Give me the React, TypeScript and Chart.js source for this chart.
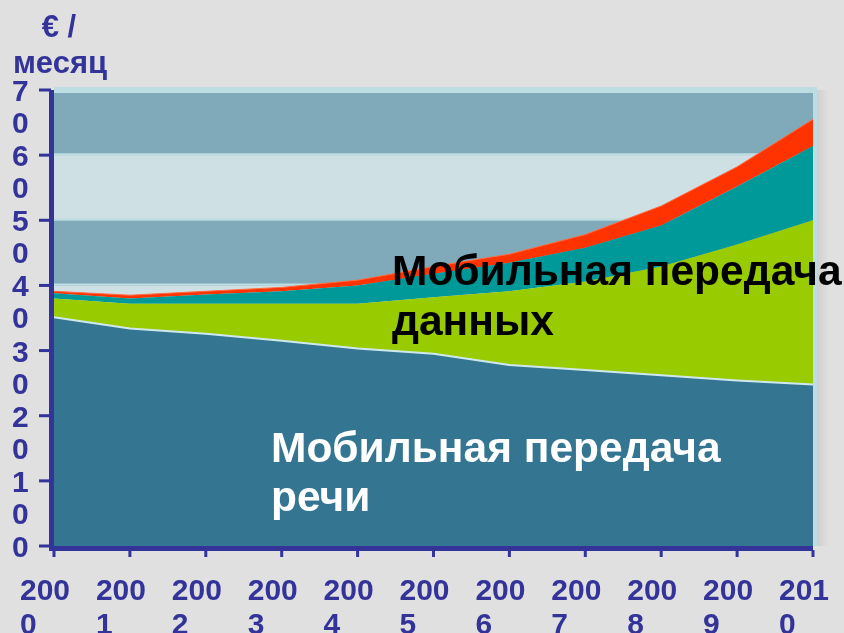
import React, { useEffect, useRef } from 'react';
import { Chart, registerables } from 'chart.js';

Chart.register(...registerables);

// ---- data ----
const years = ['2000', '2001', '2002', '2003', '2004', '2005', '2006', '2007', '2008', '2009', '2010'];
const voice = [35.1, 33.4, 32.6, 31.5, 30.3, 29.5, 27.8, 27.0, 26.2, 25.4, 24.8];
const dataGreen = [2.9, 3.8, 4.6, 5.7, 6.9, 8.7, 11.3, 13.6, 16.7, 20.9, 25.2];
const dataTeal = [0.8, 0.8, 1.4, 1.9, 2.8, 3.6, 4.4, 5.2, 6.3, 8.9, 11.4];
const dataRed = [0.3, 0.5, 0.5, 0.6, 0.8, 1.1, 1.3, 2.0, 3.0, 3.0, 4.1];
const yTicks = [0, 10, 20, 30, 40, 50, 60, 70];
const unitLabel = ['€ /', 'месяц'];
const dataLabel = ['Мобильная передача', 'данных'];
const voiceLabel = ['Мобильная передача', 'речи'];

// ---- styles ----
const BG = '#e0e0e0';
const AXIS = '#333399';
const BAND_DARK = '#80aaba';
const BAND_LIGHT = '#cee0e4';
const EDGE = '#bcdde2';
const C_VOICE = '#347692';
const C_GREEN = '#99cc00';
const C_TEAL = '#009999';
const C_RED = '#ff3300';
const FONT = '"Liberation Sans", Arial, sans-serif';

const splitY = (v: number) => (v === 0 ? ['0'] : [String(v).slice(0, -1), String(v).slice(-1)]);
const splitX = (s: string) => [s.slice(0, 3), s.slice(3)];

const deco = {
  id: 'deco',
  beforeDraw(chart: any) {
    const { ctx, width, height } = chart;
    ctx.save();
    ctx.fillStyle = BG;
    ctx.fillRect(0, 0, width, height);
    ctx.restore();
  },
  beforeDatasetsDraw(chart: any) {
    const { ctx, chartArea: a, scales } = chart;
    const y = scales.y;
    ctx.save();
    const g = ctx.createLinearGradient(a.right, 0, a.right + 16, 0);
    g.addColorStop(0, 'rgba(0,0,0,0.10)');
    g.addColorStop(1, 'rgba(0,0,0,0)');
    ctx.fillStyle = g;
    ctx.fillRect(a.right, a.top, 16, a.bottom - a.top);
    ctx.fillStyle = EDGE;
    ctx.fillRect(a.left, a.top - 3, a.right - a.left + 4, 6);
    ctx.fillRect(a.right - 1, a.top - 3, 5, a.bottom - a.top + 3);
    for (let i = 0; i < yTicks.length - 1; i++) {
      const top = y.getPixelForValue(yTicks[i + 1]);
      const bot = y.getPixelForValue(yTicks[i]);
      const t = i === yTicks.length - 2 ? top + 3 : top;
      ctx.fillStyle = i % 2 === 0 ? BAND_DARK : BAND_LIGHT;
      ctx.fillRect(a.left, t, a.right - a.left, bot - t);
    }
    ctx.strokeStyle = EDGE;
    ctx.lineWidth = 2;
    for (let i = 1; i < yTicks.length - 1; i++) {
      const py = y.getPixelForValue(yTicks[i]) - 1;
      ctx.beginPath();
      ctx.moveTo(a.left, py);
      ctx.lineTo(a.right, py);
      ctx.stroke();
    }
    ctx.restore();
  },
  afterDatasetsDraw(chart: any) {
    const { ctx, chartArea: a, scales } = chart;
    const x = scales.x;
    const y = scales.y;
    ctx.save();
    ctx.fillStyle = AXIS;
    ctx.fillRect(a.left - 5, a.top, 5, a.bottom - a.top + 5);
    ctx.fillRect(a.left - 5, a.bottom, a.right - a.left + 5, 5);
    ctx.font = `bold 30px ${FONT}`;
    ctx.textAlign = 'left';
    ctx.textBaseline = 'alphabetic';
    yTicks.forEach((v) => {
      const py = y.getPixelForValue(v);
      ctx.fillRect(a.left - 15, py - 1.5, 12, 3);
      splitY(v).forEach((s, j) => {
        ctx.fillText(s, 12, py + 11 + j * 32);
      });
    });
    years.forEach((yr, i) => {
      const px = x.getPixelForValue(i);
      ctx.fillRect(px - 1.5, a.bottom + 4, 3, 7);
      splitX(yr).forEach((s, j) => {
        ctx.fillText(s, px - 34, 600 + j * 34);
      });
    });
    ctx.textAlign = 'center';
    ctx.font = `bold 31px ${FONT}`;
    ctx.fillText(unitLabel[0], 59, 37);
    ctx.fillText(unitLabel[1], 60, 73);
    ctx.textAlign = 'left';
    ctx.font = `bold 42.5px ${FONT}`;
    ctx.fillStyle = '#000000';
    dataLabel.forEach((s, j) => ctx.fillText(s, 392, 285 + j * 50));
    ctx.fillStyle = '#ffffff';
    voiceLabel.forEach((s, j) => ctx.fillText(s, 271, 462 + j * 49));
    ctx.restore();
  },
};

export default function App() {
  const ref = useRef<HTMLCanvasElement>(null);
  useEffect(() => {
    if (!ref.current) return;
    const chart = new Chart(ref.current, {
      type: 'line',
      data: {
        labels: years,
        datasets: [
          { label: 'voice', data: voice, backgroundColor: C_VOICE, borderColor: '#cfe8ee', borderWidth: 2, fill: 'origin', pointRadius: 0 },
          { label: 'green', data: dataGreen, backgroundColor: C_GREEN, borderColor: C_GREEN, borderWidth: 0, fill: '-1', pointRadius: 0 },
          { label: 'teal', data: dataTeal, backgroundColor: C_TEAL, borderColor: C_TEAL, borderWidth: 0, fill: '-1', pointRadius: 0 },
          { label: 'red', data: dataRed, backgroundColor: C_RED, borderColor: '#ff6a40', borderWidth: 1, fill: '-1', pointRadius: 0 },
        ],
      },
      options: {
        responsive: false,
        animation: false,
        devicePixelRatio: 1,
        layout: { padding: { left: 54, right: 31, top: 90, bottom: 87 } },
        plugins: { legend: { display: false }, tooltip: { enabled: false } },
        elements: { line: { tension: 0 } },
        scales: {
          x: { display: false, offset: false },
          y: { display: false, stacked: true, min: 0, max: 70 },
        },
      },
      plugins: [deco],
    });
    return () => chart.destroy();
  }, []);
  return (
    <div style={{ position: 'fixed', left: 0, top: 0, width: 844, height: 633, background: BG }}>
      <canvas ref={ref} width={844} height={633} />
    </div>
  );
}
